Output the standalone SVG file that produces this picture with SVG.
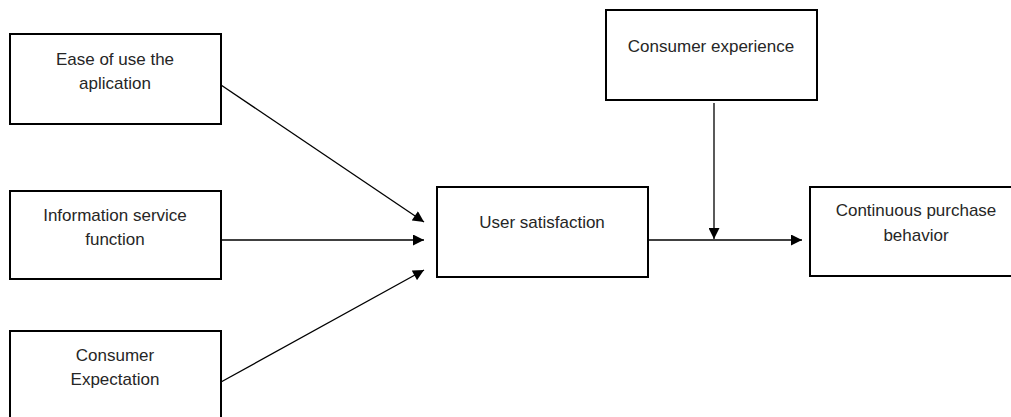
<svg xmlns="http://www.w3.org/2000/svg" width="1011" height="417" viewBox="0 0 1011 417">
<style>
.box{fill:#fff;stroke:#000;stroke-width:2}
.t{font-family:"Liberation Sans",Arial,sans-serif;font-size:17px;fill:#262626;text-anchor:middle}
.c{stroke:#000;stroke-width:1.3;fill:none}
</style>
<defs>
<marker id="ah" viewBox="0 0 10 10" refX="10" refY="5" markerWidth="12" markerHeight="11" markerUnits="userSpaceOnUse" orient="auto">
<path d="M0,0 L10,5 L0,10 Z" fill="#000"/>
</marker>
</defs>
<rect width="1011" height="417" fill="#fff"/>
<g id="n1"><rect class="box" x="10" y="34" width="211" height="90"/><text class="t" x="115" y="65">Ease of use the</text><text class="t" x="115" y="89">aplication</text></g>
<g id="n2"><rect class="box" x="10" y="191" width="211" height="88"/><text class="t" x="115" y="221">Information service</text><text class="t" x="115" y="245">function</text></g>
<g id="n3"><rect class="box" x="10" y="331" width="211" height="100"/><text class="t" x="115" y="361">Consumer</text><text class="t" x="115" y="385">Expectation</text></g>
<g id="n4"><rect class="box" x="437" y="187" width="211" height="90"/><text class="t" x="542" y="228">User satisfaction</text></g>
<g id="n5"><rect class="box" x="606" y="10" width="211" height="90"/><text class="t" x="711" y="52">Consumer experience</text></g>
<g id="n6"><rect class="box" x="810" y="187" width="210" height="89"/><text class="t" x="916" y="216">Continuous purchase</text><text class="t" x="916" y="241">behavior</text></g>
<g id="connectors">
<line class="c" x1="221" y1="85" x2="424" y2="222" marker-end="url(#ah)"/>
<line class="c" x1="221" y1="240" x2="424" y2="240" marker-end="url(#ah)"/>
<line class="c" x1="221" y1="382" x2="424" y2="270" marker-end="url(#ah)"/>
<line class="c" x1="648" y1="240" x2="802" y2="240" marker-end="url(#ah)"/>
<line class="c" x1="714" y1="103" x2="714" y2="239" marker-end="url(#ah)"/>
</g>
</svg>
